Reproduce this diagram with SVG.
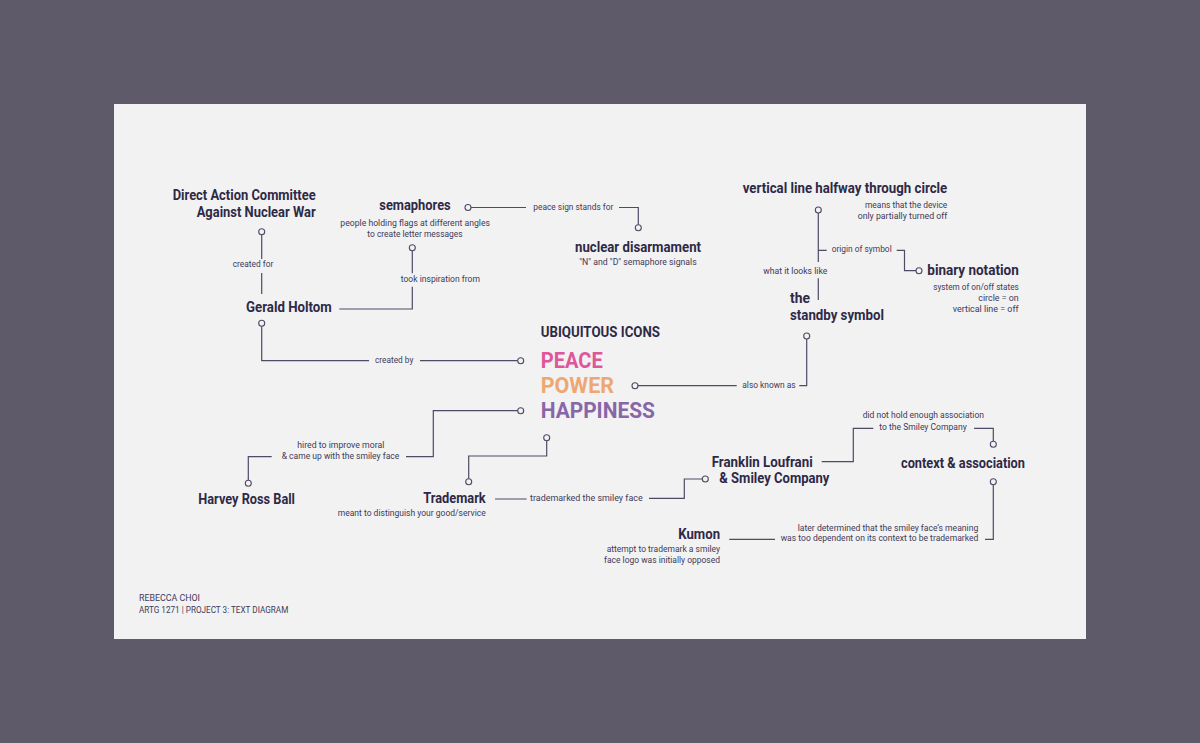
<svg xmlns="http://www.w3.org/2000/svg" width="1200" height="743" viewBox="0 0 1200 743">
<style>
.h{font-family:Roboto,"Liberation Sans",sans-serif;font-weight:700;font-size:15px;fill:#2e2946}
.s{font-family:Roboto,"Liberation Sans",sans-serif;font-weight:400;font-size:9.5px;fill:#3f3a58}
.big{font-family:Roboto,"Liberation Sans",sans-serif;font-weight:700;font-size:21.2px}
.ln{fill:none;stroke:#4f4a66;stroke-width:1.2}
.dot{fill:#f2f2f2;stroke:#4f4a66;stroke-width:1.1}
</style>
<rect x="0" y="0" width="1200" height="743" fill="#5e5a69"/>
<rect x="114" y="104" width="972" height="535" fill="#f2f2f2"/>

<g id="connectors">
  <circle class="dot" cx="261.7" cy="231.7" r="3"/>
  <path class="ln" d="M261.7 234.7V259M261.7 273V294"/>
  <path class="ln" d="M339.3 309H412.3V286.7M412.3 273.3V250.7"/>
  <circle class="dot" cx="412.3" cy="247.7" r="3"/>
  <circle class="dot" cx="468" cy="207.5" r="3"/>
  <path class="ln" d="M471 207.5H526M619 207.5H638.3V224.7"/>
  <circle class="dot" cx="638.3" cy="227.7" r="3"/>
  <circle class="dot" cx="261.7" cy="323.3" r="3"/>
  <path class="ln" d="M261.7 326.3V360.7H369M420 360.7H517.7"/>
  <circle class="dot" cx="520.7" cy="360.7" r="3"/>
  <circle class="dot" cx="818.3" cy="210" r="3"/>
  <path class="ln" d="M818.3 213V262M818.3 278.3V300M818.3 250.3H826.7M896.7 250.3H904.5V270.7H916"/>
  <circle class="dot" cx="919" cy="270.7" r="3"/>
  <circle class="dot" cx="635" cy="385.7" r="3"/>
  <path class="ln" d="M638 385.7H736.7M799.3 385.7H806.7V339"/>
  <circle class="dot" cx="806.7" cy="336" r="3"/>
  <circle class="dot" cx="520.7" cy="410.7" r="3"/>
  <path class="ln" d="M517.7 410.7H433.3V456.7H406M271.7 456.7H248.3V480.3"/>
  <circle class="dot" cx="248.3" cy="483.3" r="3"/>
  <circle class="dot" cx="546.7" cy="437.7" r="3"/>
  <path class="ln" d="M546.7 440.7V456H468.7V478.7"/>
  <circle class="dot" cx="468.7" cy="481.7" r="3"/>
  <path class="ln" d="M495 499H526.7M649 498.3H684.3V479H702.3"/>
  <circle class="dot" cx="705.3" cy="479" r="3"/>
  <path class="ln" d="M821.7 461.7H853.3V428.3H873.3M974 428.3H993.3V441.3"/>
  <circle class="dot" cx="993.3" cy="444.3" r="3"/>
  <circle class="dot" cx="993.3" cy="481.7" r="3"/>
  <path class="ln" d="M993.3 484.7V539.3H985M775 539.3H729.3"/>
</g>

<g id="connector-labels">
  <text class="s" x="232.7" y="267.3" textLength="40.6" lengthAdjust="spacingAndGlyphs">created for</text>
  <text class="s" x="400.7" y="281.7" textLength="79.3" lengthAdjust="spacingAndGlyphs">took inspiration from</text>
  <text class="s" x="375" y="363" textLength="38.3" lengthAdjust="spacingAndGlyphs">created by</text>
  <text class="s" x="533.3" y="210" textLength="80" lengthAdjust="spacingAndGlyphs">peace sign stands for</text>
  <text class="s" x="831.7" y="252.3" textLength="60" lengthAdjust="spacingAndGlyphs">origin of symbol</text>
  <text class="s" x="763.3" y="274.3" textLength="64" lengthAdjust="spacingAndGlyphs">what it looks like</text>
  <text class="s" x="742.3" y="388" textLength="53.4" lengthAdjust="spacingAndGlyphs">also known as</text>
  <text class="s" x="297.3" y="447.7" textLength="87" lengthAdjust="spacingAndGlyphs">hired to improve moral</text>
  <text class="s" x="281.7" y="459.3" textLength="117.6" lengthAdjust="spacingAndGlyphs">&amp; came up with the smiley face</text>
  <text class="s" x="530" y="501" textLength="112.7" lengthAdjust="spacingAndGlyphs">trademarked the smiley face</text>
  <text class="s" x="862.7" y="418.3" textLength="121.3" lengthAdjust="spacingAndGlyphs">did not hold enough association</text>
  <text class="s" x="879.3" y="430" textLength="87.4" lengthAdjust="spacingAndGlyphs">to the Smiley Company</text>
  <text class="s" x="797.7" y="530.7" textLength="180.6" lengthAdjust="spacingAndGlyphs">later determined that the smiley face’s meaning</text>
  <text class="s" x="780.7" y="541" textLength="197.6" lengthAdjust="spacingAndGlyphs">was too dependent on its context to be trademarked</text>
</g>

<g id="node-dac">
  <text class="h" x="172.7" y="200" textLength="143" lengthAdjust="spacingAndGlyphs">Direct Action Committee</text>
  <text class="h" x="196.7" y="216.7" textLength="119" lengthAdjust="spacingAndGlyphs">Against Nuclear War</text>
</g>
<g id="node-semaphores">
  <text class="h" x="379.3" y="210" textLength="71.4" lengthAdjust="spacingAndGlyphs">semaphores</text>
  <text class="s" x="340.3" y="226" textLength="149.7" lengthAdjust="spacingAndGlyphs">people holding flags at different angles</text>
  <text class="s" x="367.3" y="236.7" textLength="95.4" lengthAdjust="spacingAndGlyphs">to create letter messages</text>
</g>
<g id="node-nuclear">
  <text class="h" x="575" y="251.7" textLength="126" lengthAdjust="spacingAndGlyphs">nuclear disarmament</text>
  <text class="s" x="579.3" y="265" textLength="117.4" lengthAdjust="spacingAndGlyphs">"N" and "D" semaphore signals</text>
</g>
<g id="node-gerald">
  <text class="h" x="246" y="312.3" textLength="85.7" lengthAdjust="spacingAndGlyphs">Gerald Holtom</text>
</g>
<g id="node-vertical">
  <text class="h" x="742.7" y="193.3" textLength="204.6" lengthAdjust="spacingAndGlyphs">vertical line halfway through circle</text>
  <text class="s" x="865" y="208.3" textLength="82.3" lengthAdjust="spacingAndGlyphs">means that the device</text>
  <text class="s" x="857.7" y="219" textLength="89.6" lengthAdjust="spacingAndGlyphs">only partially turned off</text>
</g>
<g id="node-binary">
  <text class="h" x="927.3" y="275" textLength="91.4" lengthAdjust="spacingAndGlyphs">binary notation</text>
  <text class="s" x="933.3" y="290" textLength="85.4" lengthAdjust="spacingAndGlyphs">system of on/off states</text>
  <text class="s" x="978.3" y="301" textLength="40.4" lengthAdjust="spacingAndGlyphs">circle = on</text>
  <text class="s" x="952.7" y="311.7" textLength="66" lengthAdjust="spacingAndGlyphs">vertical line = off</text>
</g>
<g id="node-standby">
  <text class="h" x="790" y="303.3" textLength="20" lengthAdjust="spacingAndGlyphs">the</text>
  <text class="h" x="790" y="320" textLength="94" lengthAdjust="spacingAndGlyphs">standby symbol</text>
</g>
<g id="node-center">
  <text class="h" style="font-size:14px" x="540.7" y="337.3" textLength="119.3" lengthAdjust="spacingAndGlyphs">UBIQUITOUS ICONS</text>
  <text class="big" fill="#e0569b" x="540.7" y="368.3" textLength="62" lengthAdjust="spacingAndGlyphs">PEACE</text>
  <text class="big" fill="#eea772" x="540.7" y="393.3" textLength="73.3" lengthAdjust="spacingAndGlyphs">POWER</text>
  <text class="big" fill="#8867a8" x="540.7" y="418.3" textLength="114.3" lengthAdjust="spacingAndGlyphs">HAPPINESS</text>
</g>
<g id="node-harvey">
  <text class="h" x="198.3" y="504" textLength="96.7" lengthAdjust="spacingAndGlyphs">Harvey Ross Ball</text>
</g>
<g id="node-trademark">
  <text class="h" x="423.3" y="502.7" textLength="62.4" lengthAdjust="spacingAndGlyphs">Trademark</text>
  <text class="s" x="337.7" y="516" textLength="148" lengthAdjust="spacingAndGlyphs">meant to distinguish your good/service</text>
</g>
<g id="node-franklin">
  <text class="h" x="711.7" y="466.7" textLength="101" lengthAdjust="spacingAndGlyphs">Franklin Loufrani</text>
  <text class="h" x="719.3" y="483.3" textLength="110" lengthAdjust="spacingAndGlyphs">&amp; Smiley Company</text>
</g>
<g id="node-context">
  <text class="h" x="901" y="468.3" textLength="124" lengthAdjust="spacingAndGlyphs">context &amp; association</text>
</g>
<g id="node-kumon">
  <text class="h" x="678.3" y="539.3" textLength="41.7" lengthAdjust="spacingAndGlyphs">Kumon</text>
  <text class="s" x="606.7" y="551.7" textLength="113.3" lengthAdjust="spacingAndGlyphs">attempt to trademark a smiley</text>
  <text class="s" x="604" y="563.3" textLength="116" lengthAdjust="spacingAndGlyphs">face logo was initially opposed</text>
</g>
<g id="footer">
  <text class="s" style="font-size:9px" x="139" y="600.7" textLength="61" lengthAdjust="spacingAndGlyphs">REBECCA CHOI</text>
  <text class="s" style="font-size:9px" x="139" y="613.3" textLength="149.3" lengthAdjust="spacingAndGlyphs">ARTG 1271 | PROJECT 3: TEXT DIAGRAM</text>
</g>
</svg>
